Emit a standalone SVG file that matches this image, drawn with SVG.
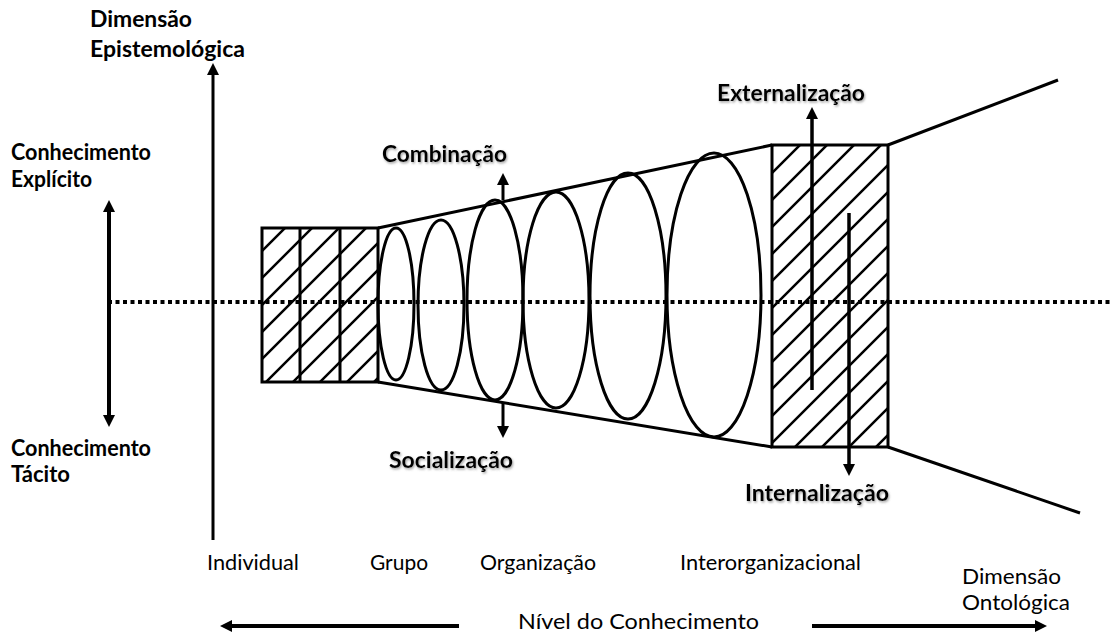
<svg xmlns="http://www.w3.org/2000/svg" width="1113" height="634" viewBox="0 0 1113 634">
<style>
.t{font-family:Lato,"Open Sans","DejaVu Sans",sans-serif;fill:#000}
.b{font-weight:bold;font-size:22px}
.r{font-size:21px}
.sh{filter:url(#shadow)}
.ln{stroke:#000;fill:none;stroke-width:3}
.ell{stroke:#000;fill:none;stroke-width:3}
.arr{stroke:#000;fill:none;marker-end:url(#ah)}
.dot{stroke:#000;stroke-width:4;stroke-dasharray:4 3.5}
.box{stroke:#000;stroke-width:3;fill:url(#hatch)}
</style>
<defs>
<pattern id="hatch" patternUnits="userSpaceOnUse" width="27" height="27">
<path d="M-4,31 L31,-4 M-4,4 L4,-4 M23,31 L31,23" stroke="#000" stroke-width="2.5"/>
</pattern>
<marker id="ah" viewBox="0 0 12 12" markerWidth="12" markerHeight="12" refX="3" refY="6" orient="auto-start-reverse" markerUnits="userSpaceOnUse">
<path d="M0,0 L12,6 L0,12 z" fill="#000"/>
</marker>
<filter id="shadow" x="-10%" y="-30%" width="120%" height="160%">
<feDropShadow dx="1" dy="1.5" stdDeviation="1" flood-color="#666" flood-opacity="0.6"/>
</filter>
</defs>
<rect width="1113" height="634" fill="#fff"/>

<g id="left-boxes">
<rect class="box" x="262" y="228" width="116" height="154"/>
<line class="ln" x1="300" y1="228" x2="300" y2="382"/>
<line class="ln" x1="340" y1="228" x2="340" y2="382"/>
</g>

<g id="funnel">
<line class="ln" x1="378" y1="228" x2="772" y2="145" stroke-width="2.5"/>
<line class="ln" x1="378" y1="382" x2="772" y2="447" stroke-width="2.5"/>
<line class="ln" x1="888" y1="145" x2="1058" y2="80" stroke-width="2.5"/>
<line class="ln" x1="888" y1="447" x2="1080" y2="513" stroke-width="2.5"/>
</g>

<g id="ellipses">
<ellipse class="ell" cx="396" cy="304" rx="18" ry="76"/>
<ellipse class="ell" cx="441" cy="305" rx="23" ry="85"/>
<ellipse class="ell" cx="495" cy="300" rx="28" ry="100"/>
<ellipse class="ell" cx="556" cy="300" rx="33" ry="108"/>
<ellipse class="ell" cx="628" cy="296" rx="38" ry="123"/>
<ellipse class="ell" cx="714" cy="295" rx="47" ry="142"/>
</g>

<g id="right-box">
<rect class="box" x="772" y="145" width="116" height="302"/>
</g>

<g id="connectors">
<line class="arr" x1="213" y1="540" x2="213" y2="72" stroke-width="3"/>
<line class="arr" x1="109" y1="418" x2="109" y2="209" stroke-width="4" marker-start="url(#ah)"/>
<line class="arr" x1="503" y1="200" x2="503" y2="182" stroke-width="3"/>
<line class="arr" x1="503" y1="403" x2="503" y2="429" stroke-width="3"/>
<line class="arr" x1="812" y1="390" x2="812" y2="116" stroke-width="3.5"/>
<line class="arr" x1="849" y1="213" x2="849" y2="467" stroke-width="3.5"/>
<line class="arr" x1="459" y1="626" x2="229" y2="626" stroke-width="4"/>
<line class="arr" x1="812" y1="626" x2="1038" y2="626" stroke-width="4"/>
<line class="dot" x1="108" y1="302" x2="1113" y2="302"/>
</g>

<g id="label-epistemologica">
<text class="t b" x="90" y="27" textLength="102" lengthAdjust="spacingAndGlyphs">Dimensão</text>
<text class="t b" x="90" y="57" textLength="155" lengthAdjust="spacingAndGlyphs">Epistemológica</text>
</g>
<g id="label-explicito">
<text class="t b" x="11" y="160" textLength="140" lengthAdjust="spacingAndGlyphs">Conhecimento</text>
<text class="t b" x="11" y="187" textLength="81" lengthAdjust="spacingAndGlyphs">Explícito</text>
</g>
<g id="label-tacito">
<text class="t b" x="11" y="456" textLength="140" lengthAdjust="spacingAndGlyphs">Conhecimento</text>
<text class="t b" x="11" y="482" textLength="59" lengthAdjust="spacingAndGlyphs">Tácito</text>
</g>
<g id="label-combinacao">
<text class="t b sh" x="382" y="162" textLength="125" lengthAdjust="spacingAndGlyphs">Combinação</text>
</g>
<g id="label-socializacao">
<text class="t b sh" x="389" y="468" textLength="124" lengthAdjust="spacingAndGlyphs">Socialização</text>
</g>
<g id="label-externalizacao">
<text class="t b sh" x="717" y="101" textLength="148" lengthAdjust="spacingAndGlyphs">Externalização</text>
</g>
<g id="label-internalizacao">
<text class="t b sh" x="745" y="501" textLength="144" lengthAdjust="spacingAndGlyphs">Internalização</text>
</g>
<g id="label-levels">
<text class="t r" x="207" y="570" textLength="92" lengthAdjust="spacingAndGlyphs">Individual</text>
<text class="t r" x="370" y="570" textLength="58" lengthAdjust="spacingAndGlyphs">Grupo</text>
<text class="t r" x="480" y="570" textLength="116" lengthAdjust="spacingAndGlyphs">Organização</text>
<text class="t r" x="680" y="570" textLength="181" lengthAdjust="spacingAndGlyphs">Interorganizacional</text>
</g>
<g id="label-ontologica">
<text class="t r" x="962" y="584" textLength="99" lengthAdjust="spacingAndGlyphs">Dimensão</text>
<text class="t r" x="962" y="610" textLength="108" lengthAdjust="spacingAndGlyphs">Ontológica</text>
</g>
<g id="label-nivel">
<text class="t r" x="518" y="629" textLength="241" lengthAdjust="spacingAndGlyphs">Nível do Conhecimento</text>
</g>
</svg>
